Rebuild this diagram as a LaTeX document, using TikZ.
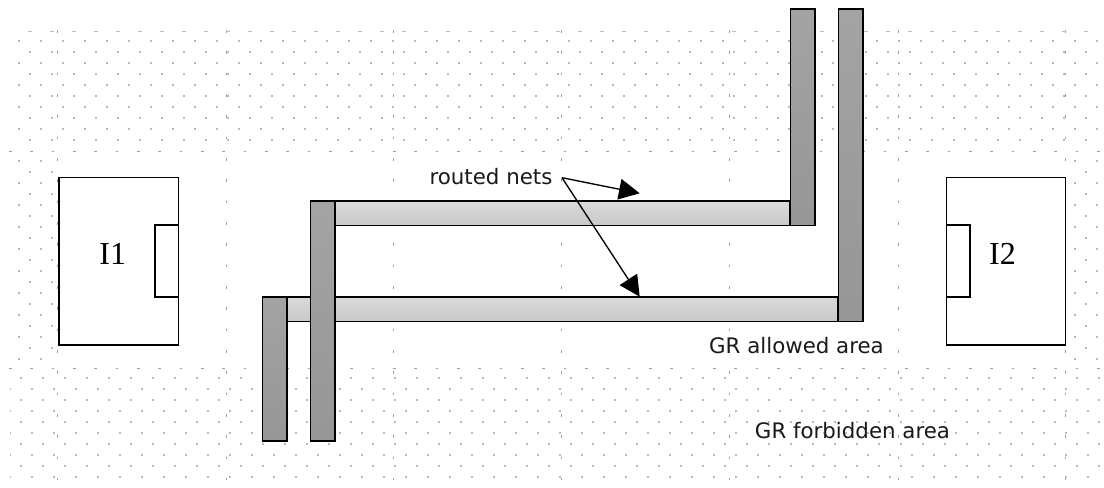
\documentclass[tikz,border=0pt]{standalone}
\usepackage{fontspec}
\setmainfont{DejaVu Sans}
\newfontfamily\serifface{Liberation Serif}
\usetikzlibrary{arrows.meta,calc}
\newcommand{\dotrows}[6]{% x0, x1, xn, y0, y1, yn
  \foreach \yy in {#4,#5,...,#6}{\foreach \xx in {#1,#2,...,#3}{\fill[griddot] (\xx-1,\yy-1) rectangle (\xx+1,\yy+1);}}}
\tikzset{
  griddot/.style={fill=black!27},
  gridmark/.style={draw=black!38,line width=0.55pt,dash pattern=on 1.9pt off 14.1pt},
  gridmarkh/.style={draw=black!38,line width=0.55pt,dash pattern=on 1.9pt off 14.1pt},
  block/.style={draw=black,fill=white,line width=0.95pt},
  nethoriz/.style={draw=black,line width=1.1pt,inner sep=0,outer sep=0,anchor=north west,shade,top color=black!15,bottom color=black!21,minimum height=18.4pt},
  netvert/.style={draw=black,line width=1.1pt,inner sep=0,outer sep=0,anchor=north west,shade,top color=black!36,bottom color=black!41,minimum width=18.4pt},
  caption/.style={font=\fontsize{16pt}{18pt}\selectfont,inner sep=0,text=black!90},
  instname/.style={font=\serifface\fontsize{24pt}{27pt}\selectfont,inner sep=0,text=black},
  pointer/.style={draw=black,line width=1pt,-{Triangle[length=15.5pt,width=15.5pt]},shorten >=0pt}
}
\begin{document}
\begin{tikzpicture}[x=0.75pt,y=-0.75pt]
\useasboundingbox (0,0) rectangle (1104,487);
\fill[white] (0,0) rectangle (1104,487);
% dot field: upper band
\dotrows{19.3}{41.3}{1098}{40.7}{62.7}{129}
\dotrows{30.3}{52.3}{1098}{51.7}{73.7}{140}
% side bands
\dotrows{19.3}{41.3}{42}{161.3}{183.3}{360}
\dotrows{30.3}{52.3}{53}{172.3}{194.3}{349}
\dotrows{1075.3}{1097.3}{1098}{161.3}{183.3}{360}
\dotrows{1086.3}{1108.3}{1087}{172.3}{194.3}{349}
% lower band
\dotrows{20.7}{42.7}{1099}{378}{400}{467}
\dotrows{31.7}{53.7}{1099}{389}{411}{478}
\foreach \yy in {389,411,...,478}{\fill[griddot] (9.6,\yy-1) rectangle (10.4,\yy+1);}
% sparse grid marks
\foreach \gx in {57.5,226,393.5,561.7,729.5,898,1065.5}{
  \coordinate (gt) at (\gx,30); \coordinate (gb) at (\gx,480);
  \draw[gridmark] (gt) -- (gb);
}
\foreach \gy in {151,368}{
  \coordinate (gl) at (9,\gy); \coordinate (gr) at (1104,\gy);
  \draw[gridmarkh] (gl) -- (gr);
}
% top half-dots
\foreach \xx in {30.3,52.3,...,1098}{\fill[griddot] (\xx-2,30.6) rectangle (\xx+2,31.6);}
% blocks
\draw[block] (59,177.5) rectangle (178.5,345);
\draw[block] (155,225) rectangle (178.5,297);
\draw[block] (946.3,177.5) rectangle (1065.5,345);
\draw[block] (946.3,225) rectangle (970,297);
\node[instname] (iA) at (112.8,253.5) {I1};
\node[instname] (iB) at (1002.5,253.5) {I2};
% nets
\node[nethoriz,minimum width=341.3pt] (hA) at (335,201) {};
\node[nethoriz,minimum width=413.3pt] (hB) at (287,297) {};
\node[netvert,minimum height=108pt] (vA) at (262.3,297) {};
\node[netvert,minimum height=180pt] (vB) at (310.3,201) {};
\node[netvert,minimum height=162.4pt] (vC) at (790.3,9) {};
\node[netvert,minimum height=234.4pt] (vD) at (838.3,9) {};
% labels
\node[caption,anchor=center] (lr) at (491,177) {routed nets};
\node[caption,anchor=center] (la) at (796.5,346) {GR allowed area};
\node[caption,anchor=center] (lf) at (852.5,431) {GR forbidden area};
% pointers
\coordinate (src) at ($(hA.north west)+(227,-23.3)$);
\coordinate (tipA) at ($(hA.north west)+(304.7,-7.7)$);
\coordinate (tipB) at ($(hB.north west)+(352.7,-0.3)$);
\draw[pointer] (src) -- (tipA);
\draw[pointer] (src) -- (tipB);
\end{tikzpicture}
\end{document}
